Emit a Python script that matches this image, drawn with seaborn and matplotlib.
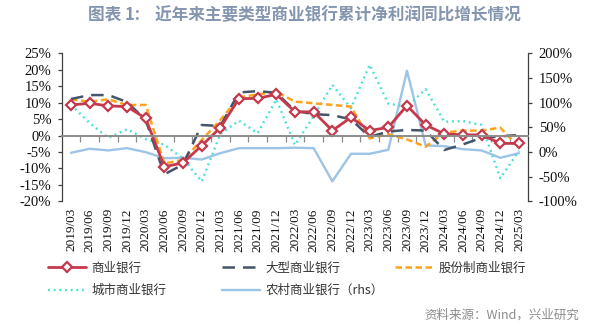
import numpy as np
import pandas as pd
import matplotlib
matplotlib.use("Agg")
import matplotlib.pyplot as plt
from matplotlib.ticker import FixedLocator, NullLocator, FuncFormatter
import seaborn as sns

# Quarter-end reporting dates
dates = ['2019/03', '2019/06', '2019/09', '2019/12', '2020/03', '2020/06', '2020/09',
         '2020/12', '2021/03', '2021/06', '2021/09', '2021/12', '2022/03', '2022/06',
         '2022/09', '2022/12', '2023/03', '2023/06', '2023/09', '2023/12', '2024/03',
         '2024/06', '2024/09', '2024/12', '2025/03']

# Cumulative net profit YoY growth, % (left axis)
commercial = [9.3, 9.8, 9.0, 8.8, 5.2, -9.5, -8.3, -3.1, 2.4, 11.2, 11.3, 12.5, 7.2,
              7.2, 1.5, 5.5, 1.5, 2.5, 9.1, 3.2, 0.5, 0.2, 0.2, -2.4, -2.4]
large = [11.1, 12.3, 12.3, 10.2, 4.7, -11.8, -8.8, 3.2, 2.9, 13.1, 13.5, 13.0, 7.5,
         6.5, 6.2, 4.9, -0.4, 1.2, 1.7, 1.5, -4.4, -2.7, -0.7, -0.3, 0.2]
joint_stock = [11.0, 10.3, 11.0, 9.3, 9.3, -8.5, -7.4, -1.4, 4.7, 11.6, 12.5, 13.3, 10.3,
               9.8, 9.3, 8.8, -0.9, 0.4, -1.2, -3.4, 0.9, 1.5, 1.5, 2.4, -3.6]
city = [9.3, 3.8, -0.7, 1.9, -1.1, -2.8, -7.0, -14.0, 0.5, 4.5, 0.7, 11.0, -2.9,
        5.9, 15.4, 8.3, 21.5, 9.7, 8.8, 14.1, 4.2, 4.4, 3.2, -13.0, -4.6]
# Rural commercial banks, % (right axis)
rural = [-1.7, 6.5, 3.1, 7.7, -0.4, -12.6, -11.8, -15.3, -2.4, 7.7, 7.7, 7.7, 8.6,
         7.7, -59.5, -3.7, -3.7, 4.5, 164.6, 13.2, 11.8, 5.7, 3.1, -11.8, -2.4]

names = ['商业银行', '大型商业银行', '股份制商业银行', '城市商业银行', '农村商业银行（rhs）']

sns.set_theme(style='white')
plt.rcParams['font.family'] = ['Noto Sans CJK SC', 'DejaVu Sans']
plt.rcParams['axes.unicode_minus'] = False

W, H = 606, 330
fig = plt.figure(figsize=(W / 100, H / 100), dpi=100)
fig.patch.set_facecolor('white')

left_px, right_px, top_px, bot_px = 61.7, 528.3, 53.3, 201.3
ax = fig.add_axes([left_px / W, 1 - bot_px / H, (right_px - left_px) / W, (bot_px - top_px) / H])
ax2 = ax.twinx()

df = pd.DataFrame({'x': np.arange(len(dates)), 'commercial': commercial, 'large': large,
                   'joint': joint_stock, 'city': city, 'rural': rural})

RED = '#C4394C'
NAVY = '#44546A'
ORANGE = '#FFA31F'
CYAN = '#45E0D6'
LBLUE = '#9DC3E6'

sns.lineplot(data=df, x='x', y='rural', ax=ax2, color=LBLUE, linewidth=1.7,
             legend=False)
sns.lineplot(data=df, x='x', y='city', ax=ax, color=CYAN, linewidth=1.7,
             linestyle=(0, (0.8, 1.6)), legend=False)
sns.lineplot(data=df, x='x', y='joint', ax=ax, color=ORANGE, linewidth=1.8,
             linestyle=(0, (2.6, 1.4)), legend=False)
sns.lineplot(data=df, x='x', y='large', ax=ax, color=NAVY, linewidth=1.8,
             linestyle=(0, (5.0, 3.2)), legend=False)
sns.lineplot(data=df, x='x', y='commercial', ax=ax, color=RED, linewidth=2.0,
             marker='D', markersize=4.8, markerfacecolor='white',
             markeredgecolor=RED, markeredgewidth=1.6, legend=False)

line_rural = ax2.lines[-1]
line_city, line_joint, line_large, line_comm = ax.lines[-4:]

# keep the left-axis series above the right-axis line
ax.set_zorder(ax2.get_zorder() + 1)
ax.patch.set_visible(False)

n = len(dates)
ax.set_xlim(-0.5, n - 0.5)
ax.set_ylim(-20, 25)
ax2.set_ylim(-100, 200)

for a in (ax, ax2):
    a.set_xlabel('')
    a.set_ylabel('')
    a.grid(False)

serif = 'Liberation Serif'
pct = FuncFormatter(lambda v, p: f'{v:.0f}%')

ax.yaxis.set_major_locator(FixedLocator(np.arange(-20, 26, 5)))
ax.yaxis.set_major_formatter(pct)
ax.tick_params(axis='y', which='major', direction='out', length=3, width=0.9,
               color='#404040', pad=4.5, labelsize=10.5, labelcolor='#111111', left=True)
ax2.yaxis.set_major_locator(FixedLocator(np.arange(-100, 201, 50)))
ax2.yaxis.set_major_formatter(pct)
ax2.tick_params(axis='y', which='major', direction='out', length=3, width=0.9,
                color='#404040', pad=4.5, labelsize=10.5, labelcolor='#111111', right=True)
for lbl in ax.get_yticklabels() + ax2.get_yticklabels():
    lbl.set_fontfamily(serif)

for a in (ax, ax2):
    a.spines['top'].set_visible(False)
ax.spines['right'].set_visible(False)
ax2.spines['left'].set_visible(False)
ax2.spines['bottom'].set_visible(False)
ax.spines['left'].set_color('#404040')
ax.spines['left'].set_linewidth(0.9)
ax2.spines['right'].set_color('#404040')
ax2.spines['right'].set_linewidth(0.9)

# category axis drawn through zero on the left scale, ticks between categories
ax.spines['bottom'].set_position(('data', 0))
ax.spines['bottom'].set_color('#8C8C8C')
ax.spines['bottom'].set_linewidth(1.4)
ax.xaxis.set_major_locator(NullLocator())
ax.xaxis.set_minor_locator(FixedLocator(np.arange(0.5, n - 1, 1.0)))
ax.tick_params(axis='x', which='minor', direction='out', length=4, width=0.9,
               color='#8C8C8C', bottom=True, labelbottom=False)

# date labels along the bottom edge of the plot
sec = ax.secondary_xaxis('bottom')
sec.xaxis.set_major_locator(FixedLocator(np.arange(n)))
sec.set_xticklabels(dates, rotation=90, fontfamily=serif, fontsize=9.5, color='#111111')
sec.xaxis.set_minor_locator(NullLocator())
sec.tick_params(axis='x', which='major', length=0, pad=5)
sec.spines['bottom'].set_visible(False)

# title
fig.text(0.503, 1 - 15.5 / H, '图表 1:    近年来主要类型商业银行累计净利润同比增长情况',
         ha='center', va='center', fontsize=12, fontweight='bold', color='#8496AF')

# legend entries laid out in a 3 x 2 grid
entries = [(line_comm, names[0], 48, 268), (line_large, names[1], 222, 268),
           (line_joint, names[2], 395, 268), (line_city, names[3], 48, 290.5),
           (line_rural, names[4], 222, 290.5)]
for h, lab, px, py in entries:
    fig.legend(handles=[h], labels=[lab], loc='center left',
               bbox_to_anchor=(px / W, 1 - py / H), frameon=False, borderpad=0,
               borderaxespad=0, handlelength=3.0, handletextpad=0.45,
               prop={'family': ['Noto Sans CJK SC', 'DejaVu Sans'], 'size': 9},
               labelcolor='#333333')

fig.text(579 / W, 1 - 315 / H, '资料来源：Wind，兴业研究', ha='right', va='center',
         fontsize=9, color='#8C8C8C')

fig.savefig('out.png', dpi=100, facecolor='white')
